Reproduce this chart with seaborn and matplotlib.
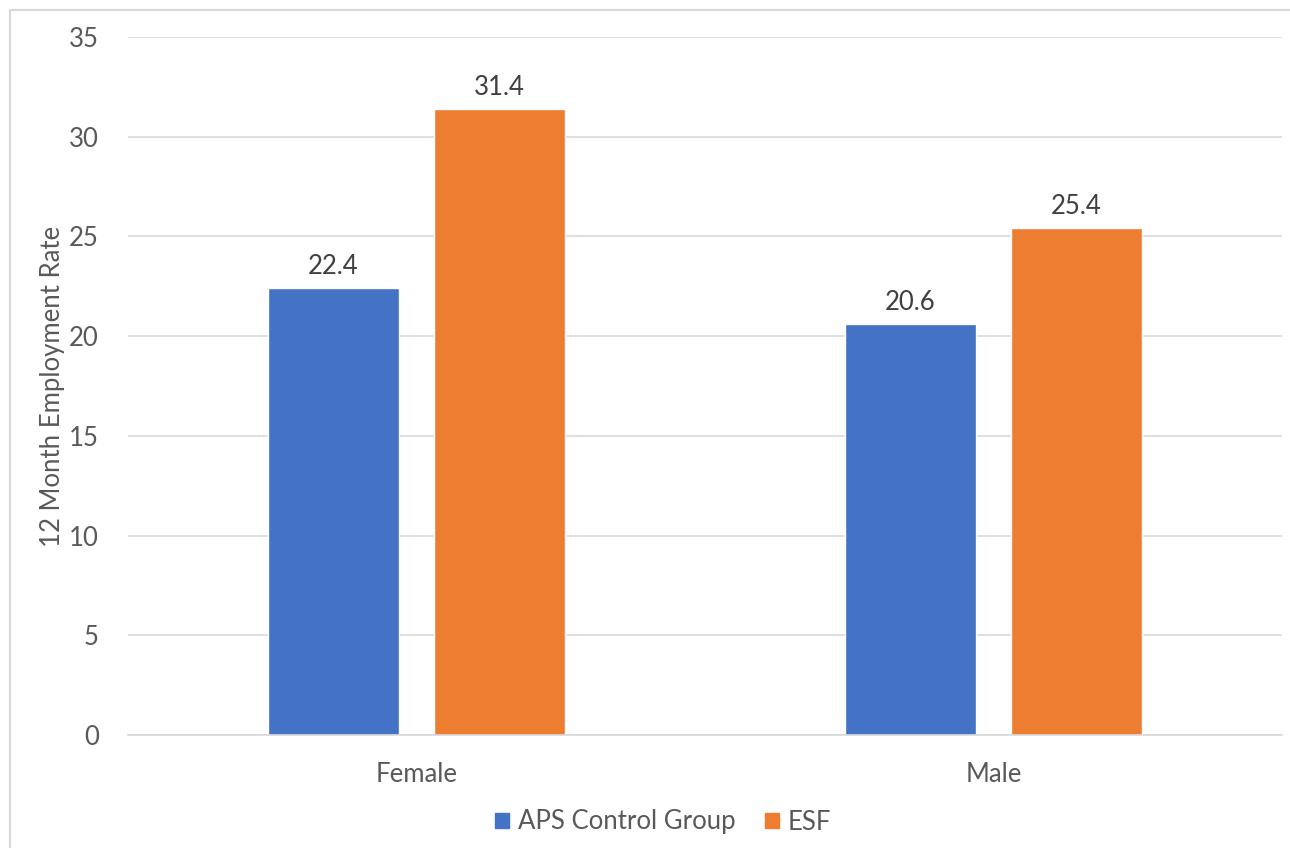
import matplotlib
matplotlib.use("Agg")
import matplotlib.pyplot as plt
import matplotlib.patches as mpatches
import seaborn as sns
import pandas as pd

# Data
categories = ["Female", "Male"]
groups = ["APS Control Group", "ESF"]
aps_values = [22.4, 20.6]
esf_values = [31.4, 25.4]
y_ticks = [0, 5, 10, 15, 20, 25, 30, 35]

colors = {"APS Control Group": "#4472C4", "ESF": "#ED7D31"}
text_color = "#595959"
fs = 18.5

df = pd.DataFrame({
    "Gender": categories * 2,
    "Group": [groups[0]] * 2 + [groups[1]] * 2,
    "Rate": aps_values + esf_values,
})

sns.set_theme(style="white")
plt.rcParams["font.family"] = ["Lato", "DejaVu Sans"]

fig = plt.figure(figsize=(12.9, 8.48), dpi=100)
ax = fig.add_axes([128 / 1290, 1 - 735 / 848, (1282 - 128) / 1290, (735 - 37) / 848])

sns.barplot(data=df, x="Gender", y="Rate", hue="Group", hue_order=groups,
            order=categories, palette=colors, width=0.575, gap=0.215,
            saturation=1, ax=ax, legend=False, errorbar=None)

for container in ax.containers:
    ax.bar_label(container, fmt="%.1f", padding=6.5, fontsize=fs, color="#404040")

ax.set_ylim(0, 35)
ax.set_xlim(-0.5, 1.5)
ax.set_yticks(y_ticks)
ax.yaxis.grid(True, color="#D9D9D9", linewidth=1.2)
ax.set_axisbelow(True)
for side in ["top", "right", "left"]:
    ax.spines[side].set_visible(False)
ax.spines["bottom"].set_color("#D9D9D9")
ax.spines["bottom"].set_linewidth(1.2)
ax.tick_params(axis="y", length=0, pad=21, labelsize=fs, labelcolor=text_color)
ax.tick_params(axis="x", length=0, pad=19.5, labelsize=fs, labelcolor=text_color)
ax.set_xlabel("")
ax.set_ylabel("12 Month Employment Rate", fontsize=fs, color=text_color, labelpad=3)

handles = [mpatches.Patch(color=colors[g], label=g) for g in groups]
fig.legend(handles=handles, loc="center", bbox_to_anchor=(0.514, 1 - 822 / 848),
           ncol=2, frameon=False, fontsize=fs, labelcolor=text_color,
           handlelength=0.55, handleheight=0.55, handletextpad=0.35, columnspacing=1.15)

# Outer chart frame
frame = mpatches.Rectangle((10 / 1290, -0.1), 1.2, 1 - 10 / 848 + 0.1,
                           transform=fig.transFigure, fill=False,
                           edgecolor="#D9D9D9", linewidth=1.5)
fig.patches.append(frame)

fig.savefig("out.png", dpi=100, facecolor="white")
